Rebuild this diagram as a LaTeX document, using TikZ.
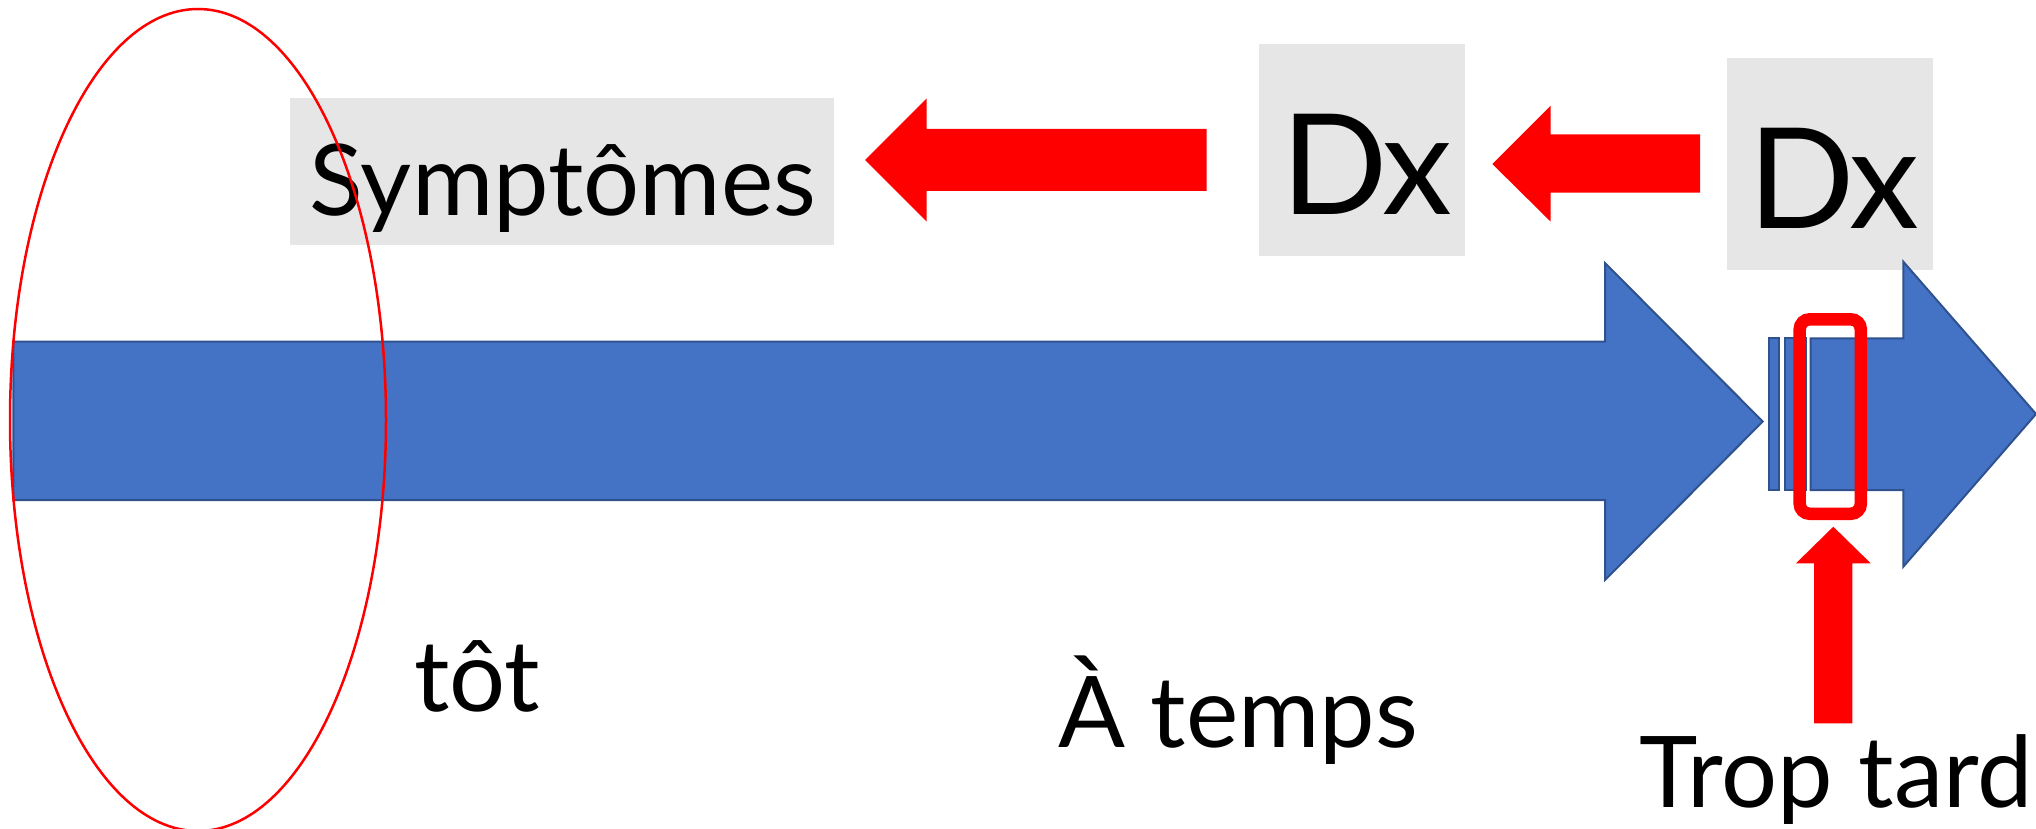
\documentclass[tikz,border=0pt]{standalone}
\usepackage{fontspec}
\setmainfont{Lato}
\definecolor{boxgray}{HTML}{E6E6E6}
\definecolor{arrowblue}{HTML}{4472C4}
\definecolor{edgeblue}{HTML}{2F528F}
\definecolor{pptred}{HTML}{FF0000}
\tikzset{
  bluearrow/.style={fill=arrowblue,draw=edgeblue,line width=2pt,line join=miter},
  redarrow/.style={fill=pptred},
  graybox/.style={fill=boxgray},
  bigtext/.style={inner sep=0pt,anchor=base,font=\fontsize{99}{110}\selectfont},
  dxtext/.style={inner sep=0pt,anchor=base,font=\fontsize{140}{160}\selectfont},
}
\begin{document}
\begin{tikzpicture}[x=1pt,y=-1pt]
\useasboundingbox (0,0) rectangle (2036,829);
% gray boxes
\fill[graybox] (290,98.3) rectangle (834,245);
\fill[graybox] (1258.5,44) rectangle (1464.5,256);
\fill[graybox] (1727.4,58.5) rectangle (1932.5,270);
% texts in boxes
\node[bigtext] (sym) at (562.9,215) {Symptômes};
\node[dxtext] (dxmid) at (1366.7,214.3) {D\kern-6pt x};
\node[dxtext] (dxright) at (1834,229) {D\kern-6pt x};
% red left arrows
\fill[redarrow] (865,160) -- (926.7,98.3) -- (926.7,129) -- (1206.7,129) -- (1206.7,191) -- (926.7,191) -- (926.7,221.7) -- cycle;
\fill[redarrow] (1492.3,164) -- (1550.7,105.7) -- (1550.7,134.3) -- (1700,134.3) -- (1700,192.7) -- (1550.7,192.7) -- (1550.7,221.7) -- cycle;
% main blue arrow
\filldraw[bluearrow] (13.3,341.7) -- (1605,341.7) -- (1605,263) -- (1762.7,421.5) -- (1605,580) -- (1605,500) -- (13.3,500) -- cycle;
% small bars
\filldraw[bluearrow] (1768.5,338.3) rectangle (1779,490);
\filldraw[bluearrow] (1785,338.3) rectangle (1806,490);
% second blue arrow
\filldraw[bluearrow] (1810.7,338.3) -- (1903.3,338.3) -- (1903.3,261.7) -- (2036,414) -- (1903.3,566.7) -- (1903.3,490) -- (1810.7,490) -- cycle;
% red rounded rectangle
\draw[pptred,line width=12.5pt,rounded corners=10pt] (1799.7,319.3) rectangle (1860.8,513.8);
% red up arrow
\fill[redarrow] (1833.3,526.7) -- (1870.7,563.3) -- (1852.3,563.3) -- (1852.3,723.3) -- (1814,723.3) -- (1814,563.3) -- (1796,563.3) -- cycle;
% ellipse
\draw[pptred,line width=2.5pt] (198,420) ellipse [x radius=188, y radius=411];
% labels
\node[bigtext] (tot) at (477,711.7) {tôt};
\node[bigtext] (atemps) at (1238.3,747.3) {À temps};
\node[bigtext] (troptard) at (1836.3,807.3) {Trop tard};
\end{tikzpicture}
\end{document}
